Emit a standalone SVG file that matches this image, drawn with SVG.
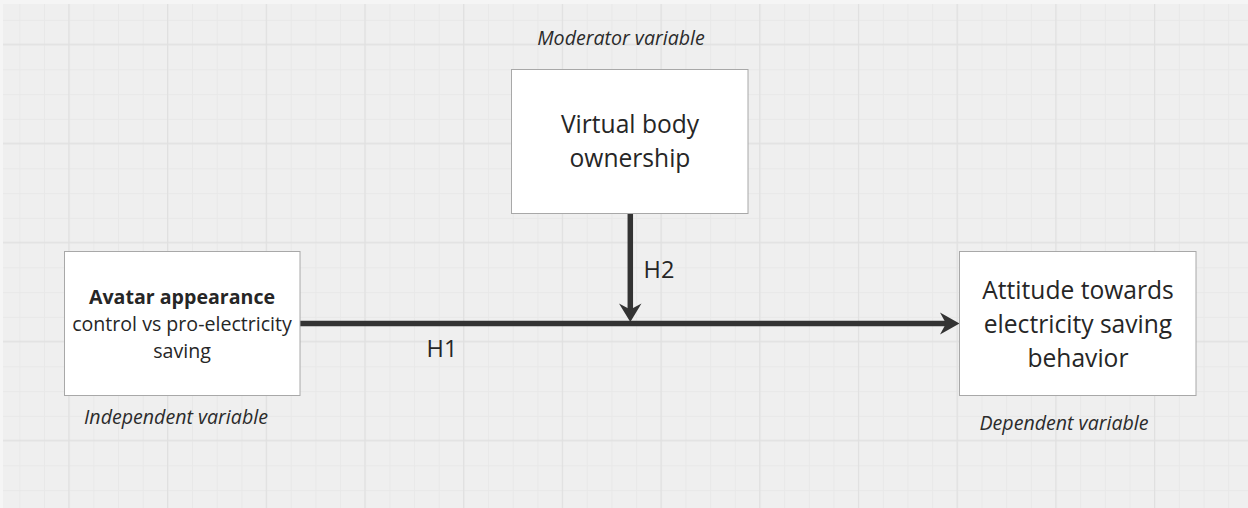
<svg xmlns="http://www.w3.org/2000/svg" width="1248" height="508" viewBox="0 0 1248 508">
  <defs>
    <pattern id="minor" x="-5.3" y="-4.9" width="24.67" height="24.75" patternUnits="userSpaceOnUse">
      <path d="M0 0.5 H24.67 M0.5 0 V24.75" fill="none" stroke="#e8e8e8" stroke-width="1"/>
    </pattern>
    <pattern id="major" x="-30.4" y="-55.3" width="98.7" height="99" patternUnits="userSpaceOnUse">
      <path d="M0 0.5 H98.7 M0.5 0 V99" fill="none" stroke="#e0e0e0" stroke-width="1.4"/>
    </pattern>
    <style>
      .box { fill: #ffffff; stroke: #a8a8a8; stroke-width: 1; }
      .txt { font-family: "Open Sans", "Liberation Sans", sans-serif; fill: #262626; text-anchor: middle; }
      .note { font-family: "Open Sans", "Liberation Sans", sans-serif; font-style: italic; fill: #2b2b2b; text-anchor: middle; font-size: 19.6px; }
      .edge { stroke: #333333; stroke-width: 5.5; fill: none; }
      .head { fill: #333333; }
    </style>
  </defs>

  <!-- canvas and grid -->
  <rect x="0" y="0" width="1248" height="508" fill="#f5f5f5"/>
  <rect x="3" y="4" width="1245" height="504" fill="#efefef"/>
  <rect x="3" y="4" width="1245" height="504" fill="url(#minor)"/>
  <rect x="3" y="4" width="1245" height="504" fill="url(#major)"/>

  <!-- connectors -->
  <g id="connectors">
    <line class="edge" x1="300" y1="323.5" x2="946" y2="323.5"/>
    <polygon class="head" points="940,312.5 959.5,323.5 940,334.5 946,323.5"/>
    <line class="edge" x1="630.3" y1="213" x2="630.3" y2="312"/>
    <polygon class="head" points="619,303.5 630.3,309.5 641.5,303.5 630.3,322"/>
    <text class="txt" x="659" y="278" font-size="23.5">H2</text>
    <text class="txt" x="442" y="357" font-size="23.5">H1</text>
  </g>

  <!-- independent variable -->
  <g id="node-avatar">
    <rect class="box" x="64.5" y="251.5" width="235.5" height="144"/>
    <text class="txt" x="182" y="304" font-size="19.6" font-weight="bold">Avatar appearance</text>
    <text class="txt" x="182" y="331" font-size="19.6">control vs pro-electricity</text>
    <text class="txt" x="182" y="358" font-size="19.6">saving</text>
    <text class="note" x="176" y="424">Independent variable</text>
  </g>

  <!-- moderator variable -->
  <g id="node-ownership">
    <rect class="box" x="511.5" y="69.5" width="236.5" height="144"/>
    <text class="txt" x="630" y="133" font-size="24.6">Virtual body</text>
    <text class="txt" x="630" y="167" font-size="24.6">ownership</text>
    <text class="note" x="621" y="45">Moderator variable</text>
  </g>

  <!-- dependent variable -->
  <g id="node-attitude">
    <rect class="box" x="959.5" y="251.5" width="236.5" height="144"/>
    <text class="txt" x="1078" y="299" font-size="24.6">Attitude towards</text>
    <text class="txt" x="1078" y="333" font-size="24.6">electricity saving</text>
    <text class="txt" x="1078" y="366.5" font-size="24.6">behavior</text>
    <text class="note" x="1064" y="430">Dependent variable</text>
  </g>
</svg>
